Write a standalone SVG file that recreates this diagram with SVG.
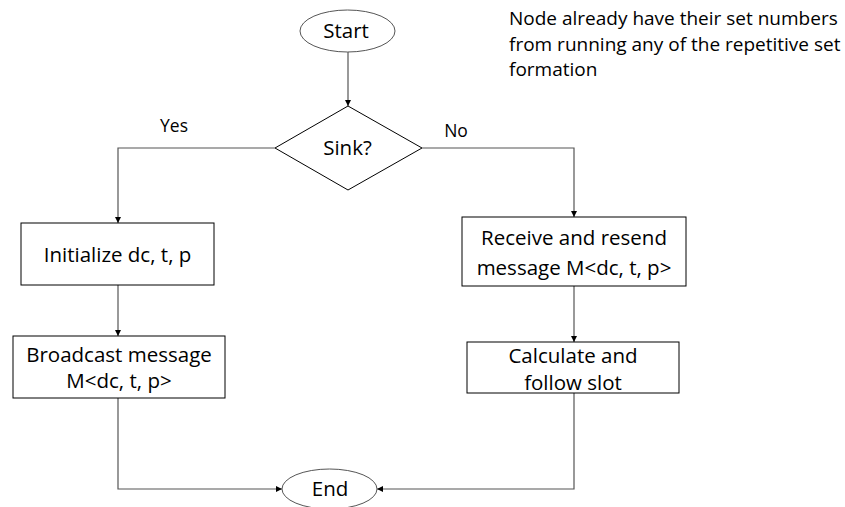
<svg xmlns="http://www.w3.org/2000/svg" width="845" height="507" viewBox="0 0 845 507">
<style>
text{font-family:"Open Sans","Noto Sans",sans-serif;font-size:20.5px;fill:#000}
.c{text-anchor:middle}
.lbl{font-size:17.5px}
.note{font-size:19px}
.shape{fill:#fff;stroke:#000;stroke-width:1}
.oval{fill:#fff;stroke:#555;stroke-width:1}
.conn{fill:none;stroke:#555;stroke-width:1.2}
</style>
<defs>
<marker id="ah" viewBox="0 0 10 10" refX="10" refY="5" markerWidth="6" markerHeight="6" orient="auto" markerUnits="userSpaceOnUse">
<path d="M0,0 L10,5 L0,10 z" fill="#000"/>
</marker>
</defs>
<rect width="845" height="507" fill="#fff"/>
<g id="connectors">
<line class="conn" x1="348" y1="52" x2="348" y2="106" marker-end="url(#ah)"/>
<polyline class="conn" points="275,148 118,148 118,223" marker-end="url(#ah)"/>
<polyline class="conn" points="422,148 574,148 574,217" marker-end="url(#ah)"/>
<line class="conn" x1="118" y1="285" x2="118" y2="336" marker-end="url(#ah)"/>
<line class="conn" x1="574" y1="286" x2="574" y2="342" marker-end="url(#ah)"/>
<polyline class="conn" points="118,398 118,489 282,489" marker-end="url(#ah)"/>
<polyline class="conn" points="574,393 574,489 377,489" marker-end="url(#ah)"/>
<text x="174" y="132" class="c lbl">Yes</text>
<text x="456" y="137" class="c lbl">No</text>
</g>
<g id="start">
<ellipse class="oval" cx="347.5" cy="31" rx="47.5" ry="21"/>
<text x="346" y="38" class="c">Start</text>
</g>
<g id="sink">
<polygon class="shape" points="348,106 422,148 348,190 275,148" stroke="#444"/>
<text x="347.5" y="155" class="c">Sink?</text>
</g>
<g id="init">
<rect class="shape" x="21" y="223" width="193" height="62"/>
<text x="117.5" y="262" class="c">Initialize dc, t, p</text>
</g>
<g id="broadcast">
<rect class="shape" x="13" y="336" width="212" height="62"/>
<text x="119" y="362" class="c">Broadcast message</text>
<text x="119" y="388" class="c">M&lt;dc, t, p&gt;</text>
</g>
<g id="receive">
<rect class="shape" x="462" y="217" width="224" height="69"/>
<text x="574" y="245" class="c">Receive and resend</text>
<text x="574" y="275" class="c">message M&lt;dc, t, p&gt;</text>
</g>
<g id="calculate">
<rect class="shape" x="467" y="342" width="212" height="51"/>
<text x="573" y="363" class="c">Calculate and</text>
<text x="573" y="390" class="c">follow slot</text>
</g>
<g id="end">
<ellipse class="oval" cx="329.5" cy="489" rx="47.5" ry="20"/>
<text x="330" y="496" class="c">End</text>
</g>
<g id="note">
<text x="509" y="25" class="note">Node already have their set numbers</text>
<text x="509" y="51" class="note">from running any of the repetitive set</text>
<text x="509" y="76" class="note">formation</text>
</g>
</svg>
